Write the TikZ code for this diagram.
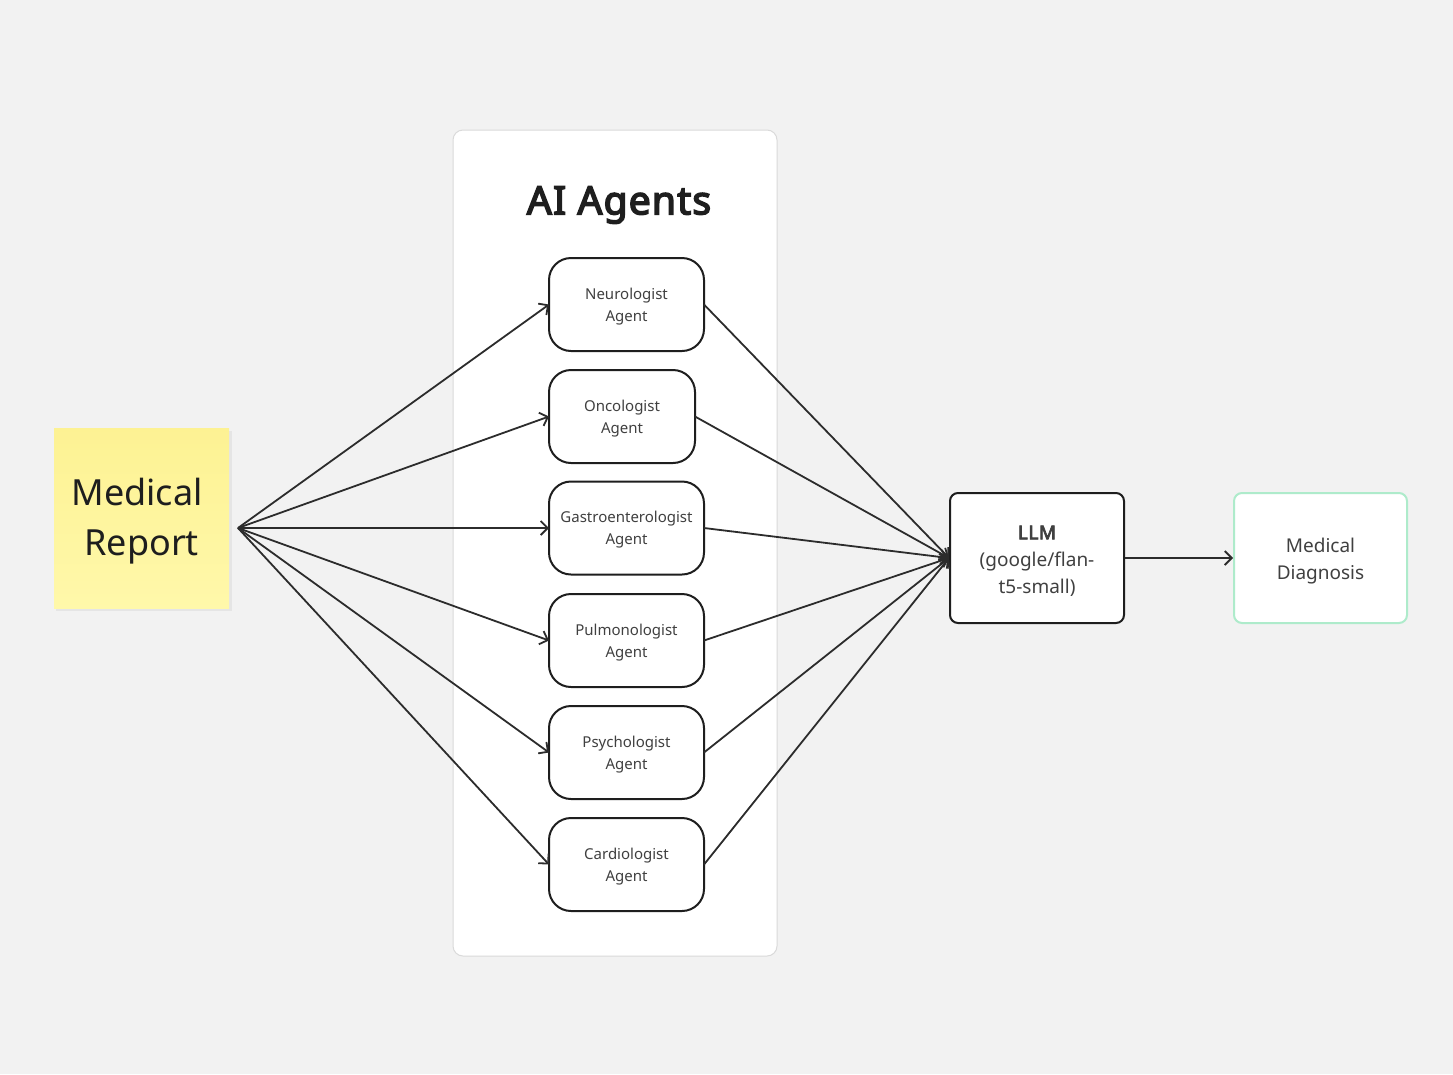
\documentclass[tikz,border=0pt]{standalone}
\usepackage{fontspec}
\setmainfont{Noto Sans}
\newfontfamily\boldnoto{Noto Sans}[FakeBold=4,LetterSpace=3]
\usetikzlibrary{arrows.meta}
\definecolor{bgc}{HTML}{F2F2F2}
\definecolor{panelborder}{HTML}{DADADA}
\definecolor{ink}{HTML}{1E1E1E}
\definecolor{linec}{HTML}{2C2C2C}
\definecolor{greenb}{HTML}{AEEBCB}
\definecolor{stickytop}{HTML}{FDF293}
\definecolor{stickybot}{HTML}{FFF8AA}
\tikzset{
  agentbox/.style={draw=ink, line width=2pt, fill=white, rounded corners=22pt,
    minimum width=155pt, minimum height=93pt, inner sep=0pt, outer sep=0pt},
  agenttext/.style={align=center, inner sep=0pt, font=\fontsize{15}{22}\selectfont, text=ink!85},
  bigtext/.style={align=center, inner sep=0pt, font=\fontsize{19}{27}\selectfont, text=ink!85},
  conn/.style={draw=linec, line width=1.8pt, -{Straight Barb[length=7pt,width=14pt,line width=1.8pt]}},
}
\begin{document}
\begin{tikzpicture}[x=1pt,y=-1pt]
\fill[bgc] (0,0) rectangle (1453,1074);
\useasboundingbox (0,0) rectangle (1453,1074);
% panel
\draw[panelborder, fill=white, line width=1pt, rounded corners=10pt] (453,130) rectangle (777,956);
\node[font=\fontsize{39}{44}\selectfont\boldnoto, text=ink] (title) at (619,205) {AI Agents};
% sticky note
\fill[black!10] (56,431) rectangle (232,611);
\shade[top color=stickytop, bottom color=stickybot] (54,428) rectangle (229,608);
\node[inner sep=0pt, align=center, font=\fontsize{36}{50}\selectfont, text=ink] (report) at (137,521) {Medical\\\ Report};
\coordinate (src) at (238,528);
% agents
\node[agentbox] (neuro) at (626.5,304.5) {};
\node[agentbox, minimum width=146pt] (onco) at (622,416.5) {};
\node[agentbox] (gastro) at (626.5,528) {};
\node[agentbox] (pulmo) at (626.5,640.5) {};
\node[agentbox] (psych) at (626.5,752.5) {};
\node[agentbox] (cardio) at (626.5,864.5) {};
\node[agenttext] (tneuro) at ([yshift=-2pt]neuro.center) {Neurologist\\Agent};
\node[agenttext] (tonco) at ([yshift=-2pt]onco.center) {Oncologist\\Agent};
\node[agenttext] (tgastro) at ([yshift=-2pt]gastro.center) {Gastroenterologist\\Agent};
\node[agenttext] (tpulmo) at ([yshift=-2pt]pulmo.center) {Pulmonologist\\Agent};
\node[agenttext] (tpsych) at ([yshift=-2pt]psych.center) {Psychologist\\Agent};
\node[agenttext] (tcardio) at ([yshift=-2pt]cardio.center) {Cardiologist\\Agent};
% LLM
\node[draw=ink, line width=2pt, fill=white, rounded corners=8pt, minimum width=174pt,
  minimum height=130pt, inner sep=0pt] (llm) at (1037,558) {};
\node[bigtext] (tllm) at ([yshift=-3pt]llm.center) {{\boldnoto LLM}\\(google/flan-\\t5-small)};
% diagnosis
\node[draw=greenb, line width=2pt, fill=white, rounded corners=8pt, minimum width=173pt,
  minimum height=130pt, inner sep=0pt] (diag) at (1320.5,558) {};
\node[bigtext] (tdiag) at ([yshift=-3pt]diag.center) {Medical\\Diagnosis};
% connectors
\foreach \a in {neuro,onco,gastro,pulmo,psych,cardio}{
  \draw[conn] (src) -- (\a.west);
  \draw[conn] (\a.east) -- (llm.west);
}
\draw[conn] (llm.east) -- (diag.west);
\end{tikzpicture}
\end{document}
